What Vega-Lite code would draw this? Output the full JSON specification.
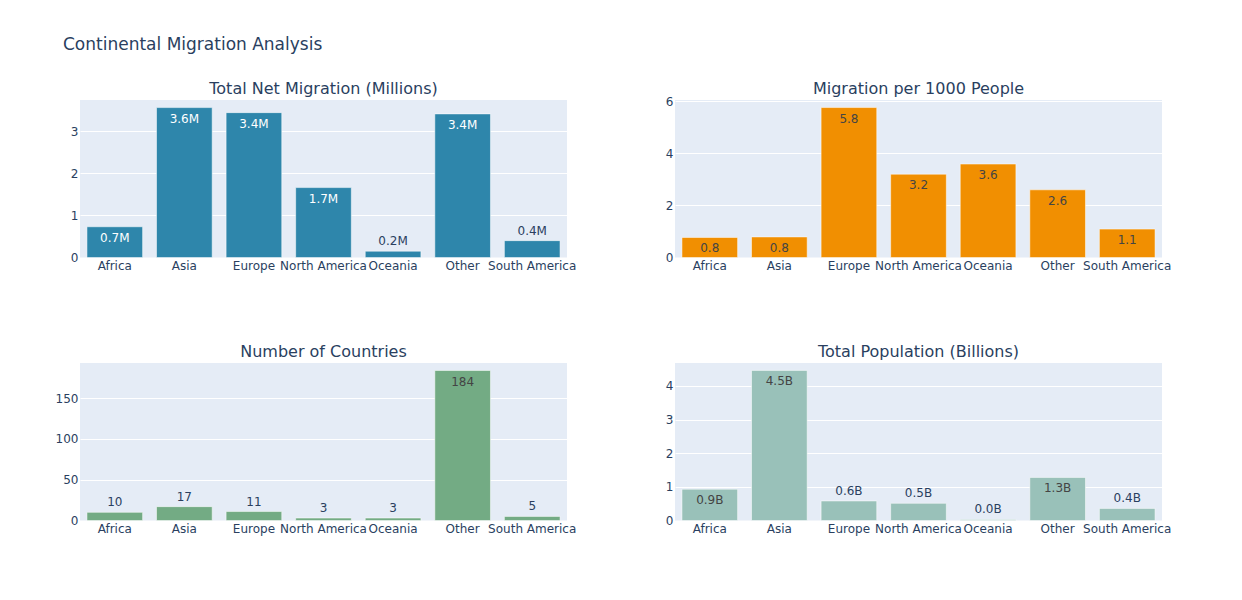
{
  "$schema": "https://vega.github.io/schema/vega-lite/v6.json",
  "padding": {"left": 55, "top": 36, "right": 5, "bottom": 5},
  "background": "white",
  "title": {"text": "Continental Migration Analysis", "anchor": "start", "frame": "group", "fontSize": 17, "fontWeight": "normal", "color": "#2a3f5f", "font": "DejaVu Sans", "dx": -17, "offset": 14, "baseline": "alphabetic"},
  "data": {"values": [
    {"continent": "Africa", "migration": 0.73, "mig_label": "0.7M", "per1000": 0.77, "per1000_label": "0.8", "countries": 10, "population": 0.93, "pop_label": "0.9B"},
    {"continent": "Asia", "migration": 3.56, "mig_label": "3.6M", "per1000": 0.79, "per1000_label": "0.8", "countries": 17, "population": 4.46, "pop_label": "4.5B"},
    {"continent": "Europe", "migration": 3.44, "mig_label": "3.4M", "per1000": 5.76, "per1000_label": "5.8", "countries": 11, "population": 0.58, "pop_label": "0.6B"},
    {"continent": "North America", "migration": 1.66, "mig_label": "1.7M", "per1000": 3.2, "per1000_label": "3.2", "countries": 3, "population": 0.51, "pop_label": "0.5B"},
    {"continent": "Oceania", "migration": 0.15, "mig_label": "0.2M", "per1000": 3.59, "per1000_label": "3.6", "countries": 3, "population": 0.03, "pop_label": "0.0B"},
    {"continent": "Other", "migration": 3.41, "mig_label": "3.4M", "per1000": 2.6, "per1000_label": "2.6", "countries": 184, "population": 1.28, "pop_label": "1.3B"},
    {"continent": "South America", "migration": 0.4, "mig_label": "0.4M", "per1000": 1.09, "per1000_label": "1.1", "countries": 5, "population": 0.36, "pop_label": "0.4B"}
  ]},
  "columns": 2,
  "spacing": {"row": 105, "column": 108},
  "bounds": "flush",
  "concat": [
    {
      "width": 487, "height": 157.5,
      "title": {"text": "Total Net Migration (Millions)", "offset": 3},
      "encoding": {
        "x": {"field": "continent", "type": "nominal", "sort": null, "scale": {"paddingInner": 0.2, "paddingOuter": 0.1}, "axis": {"title": null}},
        "y": {"field": "migration", "type": "quantitative", "scale": {"domain": [0, 3.74], "nice": false}, "axis": {"title": null, "values": [0, 1, 2, 3]}}
      },
      "layer": [
        {"mark": {"type": "bar", "fill": "#2E86AB", "stroke": "white", "strokeWidth": 1, "strokeOpacity": 0.5}},
        {"transform": [{"filter": "datum.migration >= 0.5"}], "mark": {"type": "text", "baseline": "top", "dy": 6, "fontSize": 12, "color": "white"}, "encoding": {"text": {"field": "mig_label"}}},
        {"transform": [{"filter": "datum.migration < 0.5"}], "mark": {"type": "text", "baseline": "bottom", "dy": -3, "fontSize": 12, "color": "#2a3f5f"}, "encoding": {"text": {"field": "mig_label"}}}
      ]
    },
    {
      "width": 487, "height": 157.5,
      "title": {"text": "Migration per 1000 People", "offset": -2},
      "encoding": {
        "x": {"field": "continent", "type": "nominal", "sort": null, "scale": {"paddingInner": 0.2, "paddingOuter": 0.1}, "axis": {"title": null}},
        "y": {"field": "per1000", "type": "quantitative", "scale": {"domain": [0, 6.05], "nice": false}, "axis": {"title": null, "values": [0, 2, 4, 6]}}
      },
      "layer": [
        {"mark": {"type": "bar", "fill": "#F18F01", "stroke": "white", "strokeWidth": 1, "strokeOpacity": 0.5}},
        {"mark": {"type": "text", "baseline": "top", "dy": 6, "fontSize": 12, "color": "#444444"}, "encoding": {"text": {"field": "per1000_label"}}}
      ]
    },
    {
      "width": 487, "height": 157.5,
      "title": {"text": "Number of Countries", "offset": 3},
      "encoding": {
        "x": {"field": "continent", "type": "nominal", "sort": null, "scale": {"paddingInner": 0.2, "paddingOuter": 0.1}, "axis": {"title": null}},
        "y": {"field": "countries", "type": "quantitative", "scale": {"domain": [0, 193.2], "nice": false}, "axis": {"title": null, "values": [0, 50, 100, 150]}}
      },
      "layer": [
        {"mark": {"type": "bar", "fill": "#73AB84", "stroke": "white", "strokeWidth": 1, "strokeOpacity": 0.5}},
        {"transform": [{"filter": "datum.countries >= 50"}], "mark": {"type": "text", "baseline": "top", "dy": 6, "fontSize": 12, "color": "#444444"}, "encoding": {"text": {"field": "countries"}}},
        {"transform": [{"filter": "datum.countries < 50"}], "mark": {"type": "text", "baseline": "bottom", "dy": -3, "fontSize": 12, "color": "#2a3f5f"}, "encoding": {"text": {"field": "countries"}}}
      ]
    },
    {
      "width": 487, "height": 157.5,
      "title": {"text": "Total Population (Billions)", "offset": 3},
      "encoding": {
        "x": {"field": "continent", "type": "nominal", "sort": null, "scale": {"paddingInner": 0.2, "paddingOuter": 0.1}, "axis": {"title": null}},
        "y": {"field": "population", "type": "quantitative", "scale": {"domain": [0, 4.68], "nice": false}, "axis": {"title": null, "values": [0, 1, 2, 3, 4]}}
      },
      "layer": [
        {"mark": {"type": "bar", "fill": "#99C1B9", "stroke": "white", "strokeWidth": 1, "strokeOpacity": 0.5}},
        {"transform": [{"filter": "datum.population >= 0.75"}], "mark": {"type": "text", "baseline": "top", "dy": 6, "fontSize": 12, "color": "#444444"}, "encoding": {"text": {"field": "pop_label"}}},
        {"transform": [{"filter": "datum.population < 0.75"}], "mark": {"type": "text", "baseline": "bottom", "dy": -3, "fontSize": 12, "color": "#2a3f5f"}, "encoding": {"text": {"field": "pop_label"}}}
      ]
    }
  ],
  "config": {
    "font": "DejaVu Sans",
    "view": {"fill": "#E5ECF6", "stroke": null},
    "title": {"fontSize": 16, "fontWeight": "normal", "color": "#2a3f5f", "font": "DejaVu Sans", "anchor": "middle", "frame": "group", "baseline": "alphabetic"},
    "axis": {"domain": false, "ticks": false, "tickSize": 0, "labelFont": "DejaVu Sans", "labelFontSize": 12, "labelColor": "#2a3f5f", "gridColor": "white", "gridWidth": 1},
    "axisX": {"grid": false, "labelAngle": 0, "labelPadding": 3},
    "axisY": {"grid": true, "labelPadding": 2}
  }
}
